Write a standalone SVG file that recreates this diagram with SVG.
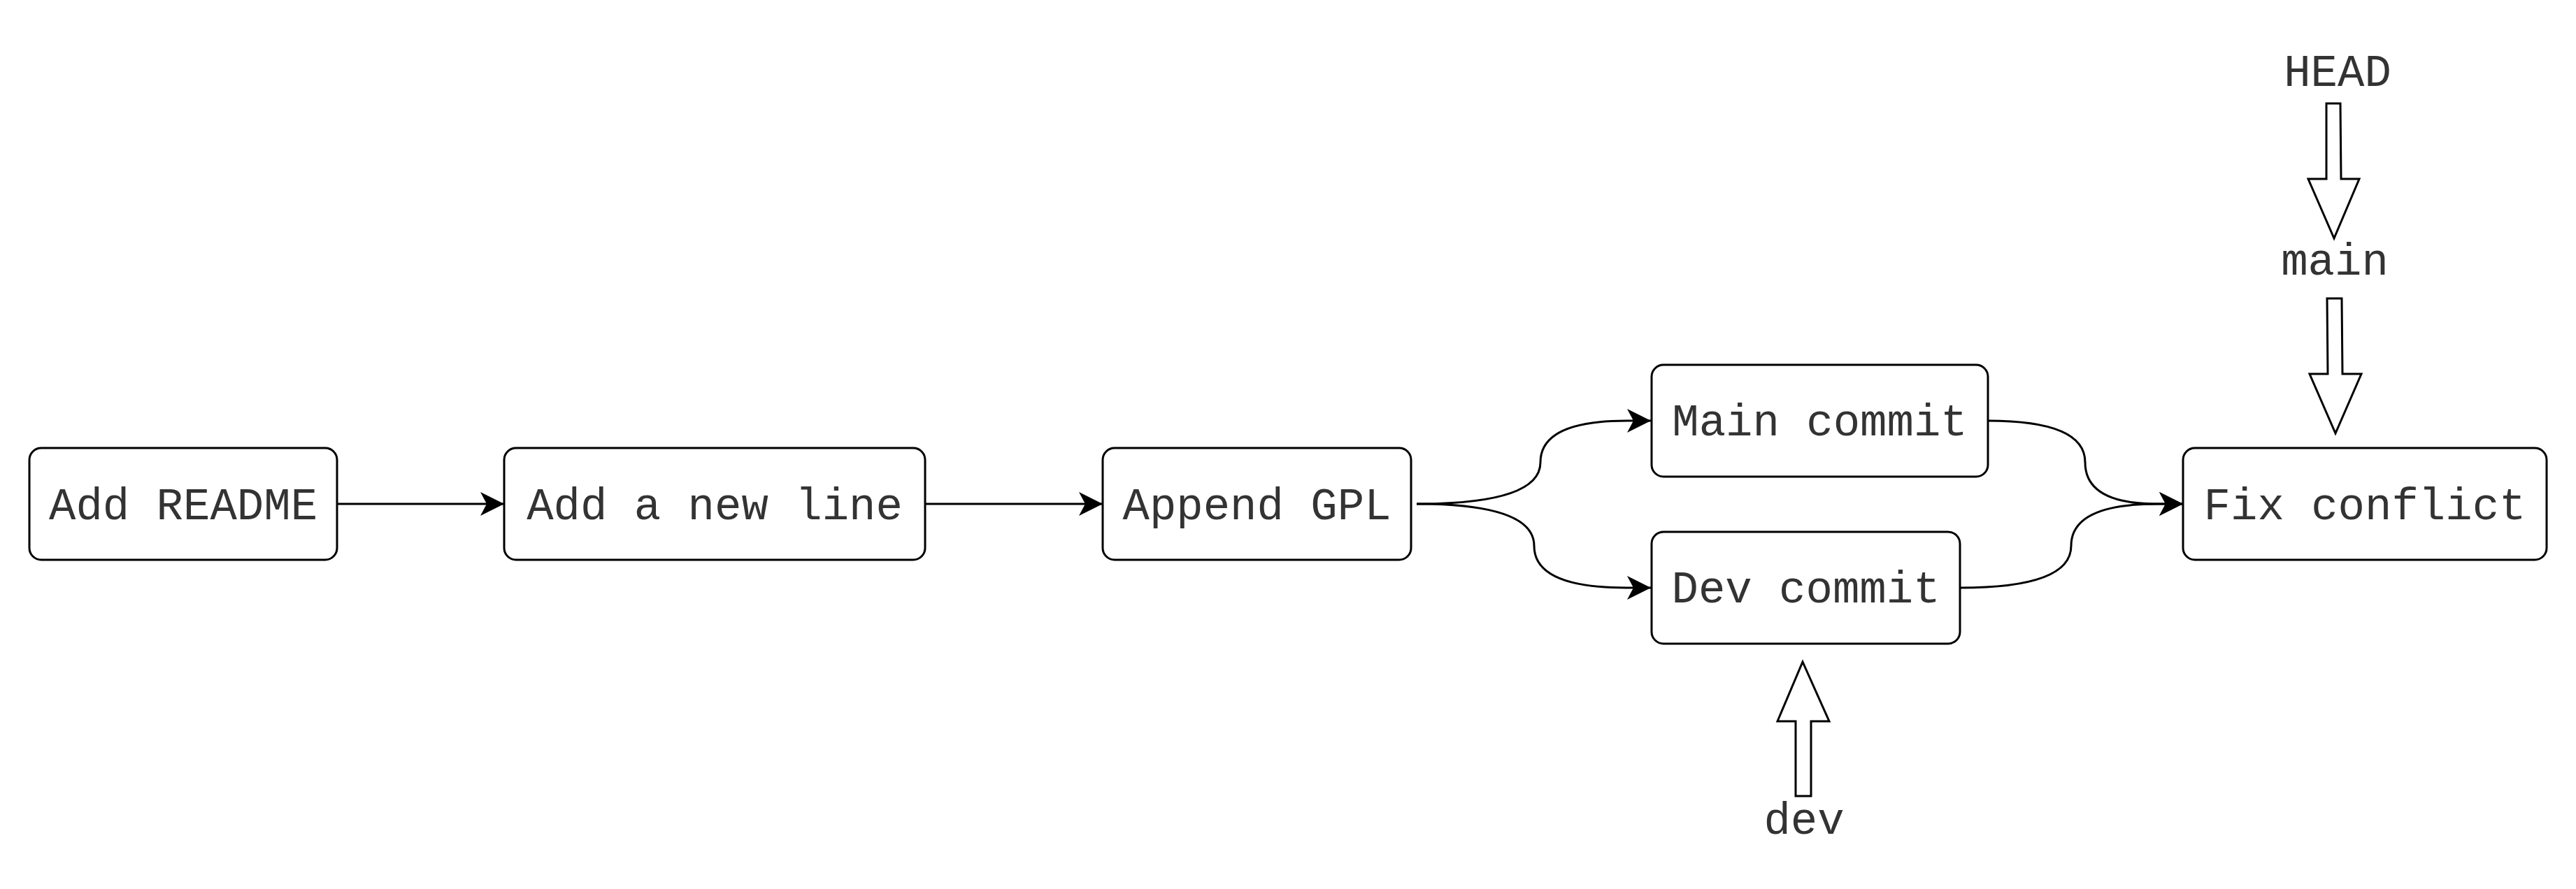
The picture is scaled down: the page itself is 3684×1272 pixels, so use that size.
<svg xmlns="http://www.w3.org/2000/svg" width="3684" height="1272" viewBox="0 0 3684 1272">
  <style>
    .box { fill: #ffffff; stroke: #000000; stroke-width: 3; }
    .lbl { font-family: "Liberation Mono", "Courier New", monospace; font-size: 64px; fill: #333333; text-anchor: middle; }
    .edge { fill: none; stroke: #000000; stroke-width: 3; marker-end: url(#classic); }
    .ptr { fill: #ffffff; stroke: #000000; stroke-width: 3; stroke-linejoin: miter; }
  </style>
  <defs>
    <marker id="classic" markerUnits="userSpaceOnUse" markerWidth="40" markerHeight="40" viewBox="-36 -20 40 40" refX="0" refY="0" orient="auto">
      <path d="M0,0 L-34,-17 L-25,0 L-34,17 Z" fill="#000000"/>
    </marker>
  </defs>
  <rect width="3684" height="1272" fill="#ffffff"/>

  <!-- commit connectors -->
  <g id="edges">
    <path class="edge" d="M482,721 L721,721"/>
    <path class="edge" d="M1323,721 L1577,721"/>
    <path class="edge" d="M2026,721 Q2203,721 2203,661.5 Q2203,602 2326,602 L2361,602"/>
    <path class="edge" d="M2026,721 Q2194,721 2194,781 Q2194,841 2326,841 L2361,841"/>
    <path class="edge" d="M2843,602 Q2982,602 2982,661.5 Q2982,721 3085,721 L3122,721"/>
    <path class="edge" d="M2803,841 Q2962,841 2962,781 Q2962,721 3085,721 L3122,721"/>
  </g>

  <!-- commits -->
  <g id="add-readme">
    <rect class="box" x="42" y="641" width="440" height="160" rx="17"/>
    <text class="lbl" x="262" y="743">Add README</text>
  </g>
  <g id="add-new-line">
    <rect class="box" x="721" y="641" width="602" height="160" rx="17"/>
    <text class="lbl" x="1022" y="743">Add a new line</text>
  </g>
  <g id="append-gpl">
    <rect class="box" x="1577" y="641" width="441" height="160" rx="17"/>
    <text class="lbl" x="1797.5" y="743">Append GPL</text>
  </g>
  <g id="main-commit">
    <rect class="box" x="2362" y="522" width="481" height="160" rx="17"/>
    <text class="lbl" x="2602.5" y="623">Main commit</text>
  </g>
  <g id="dev-commit">
    <rect class="box" x="2362" y="761" width="441" height="160" rx="17"/>
    <text class="lbl" x="2582.5" y="862">Dev commit</text>
  </g>
  <g id="fix-conflict">
    <rect class="box" x="3122" y="641" width="520" height="160" rx="17"/>
    <text class="lbl" x="3382" y="743">Fix conflict</text>
  </g>

  <!-- refs -->
  <g id="head">
    <text class="lbl" x="3343" y="123">HEAD</text>
    <polygon class="ptr" points="3327,148 3347,148 3348,256 3374,256 3338,341 3301,256 3327,256"/>
  </g>
  <g id="main-ref">
    <text class="lbl" x="3339" y="393">main</text>
    <polygon class="ptr" points="3328,427 3349,427 3350,535 3377,535 3340,620 3303,535 3329,535"/>
  </g>
  <g id="dev-ref">
    <text class="lbl" x="2580" y="1193">dev</text>
    <polygon class="ptr" points="2568,1139 2590,1139 2590,1032 2616,1032 2578,947 2542,1032 2568,1032"/>
  </g>
</svg>
